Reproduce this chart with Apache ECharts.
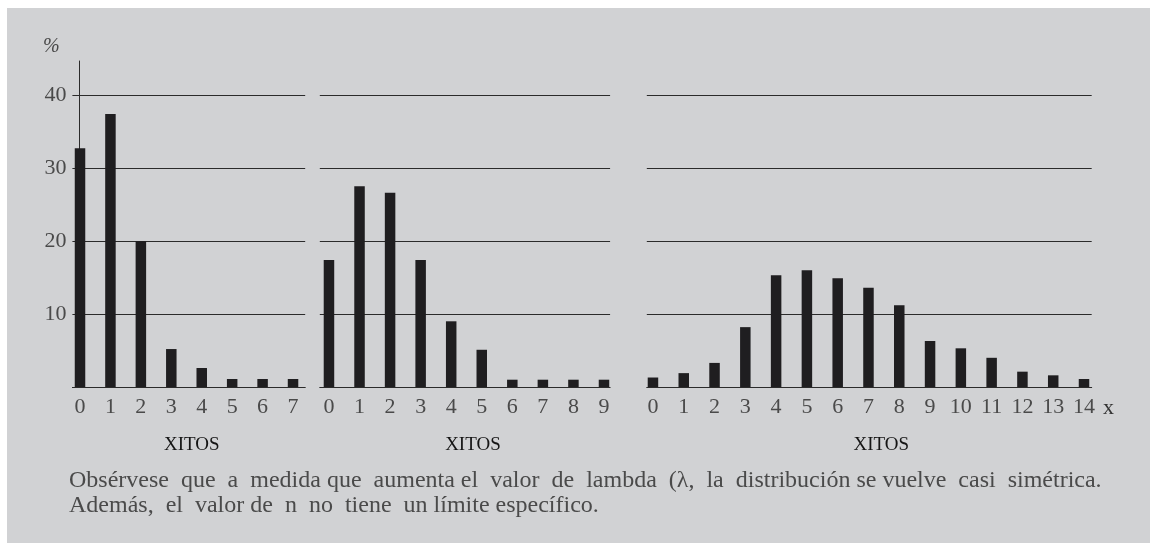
<!DOCTYPE html>
<html>
<head>
<meta charset="utf-8">
<script src="https://cdn.jsdelivr.net/npm/echarts@6/dist/echarts.min.js"></script>
<style>
    html, body { margin: 0; padding: 0; background: #ffffff; }
    #panel { position: absolute; left: 7px; top: 8px; width: 1143px; height: 535px; background: #d1d2d4; }
    #chart { position: absolute; left: 0; top: 0; width: 1150px; height: 543px; }
</style>
</head>
<body>
<div id="panel"></div>
<div id="chart"></div>
<script>
// éxitos (x) y porcentaje de cada panel
var xitos1 = [0, 1, 2, 3, 4, 5, 6, 7];
var pct1 = [32.7, 37.4, 20.0, 5.2, 2.6, 1.1, 1.1, 1.1];
var xitos2 = [0, 1, 2, 3, 4, 5, 6, 7, 8, 9];
var pct2 = [17.4, 27.5, 26.6, 17.4, 9.0, 5.1, 1.0, 1.0, 1.0, 1.0];
var xitos3 = [0, 1, 2, 3, 4, 5, 6, 7, 8, 9, 10, 11, 12, 13, 14];
var pct3 = [1.3, 1.9, 3.3, 8.2, 15.3, 16.0, 14.9, 13.6, 11.2, 6.3, 5.3, 4.0, 2.1, 1.6, 1.1];
var yTicks = [0, 10, 20, 30, 40];
var axisName = "XITOS";
// espacios dobles para imitar el texto justificado del original
var caption1 = "Obsérvese  que  a  medida que  aumenta el  valor  de  lambda  (λ,  la  distribución se vuelve  casi  simétrica.";
var caption2 = "Además,  el  valor de  n  no  tiene  un límite específico.";

var serif = "Liberation Serif";
var ink = "#1f1e20";
var lineCol = "#2b2b2b";
var textCol = "#4a4a4a";

function pairs(xs, ys) {
    var out = [];
    for (var i = 0; i < xs.length; i++) {
        out.push([xs[i], ys[i]]);
    }
    return out;
}

function xAxisFor(idx, xs, min, max, shift) {
    return {
        type: "value",
        gridIndex: idx,
        min: min,
        max: max,
        axisLine: { show: true, onZero: false, lineStyle: { color: lineCol, width: 1 } },
        axisTick: { show: false },
        splitLine: { show: false },
        axisLabel: {
            customValues: xs,
            margin: 9,
            fontFamily: serif,
            fontSize: 22,
            color: textCol
        },
        name: axisName,
        nameLocation: "middle",
        nameGap: 49,
        nameTextStyle: { fontFamily: serif, fontSize: 19, color: "#151515", padding: [0, 0, 0, shift] }
    };
}

function yAxisFor(idx, showLabel) {
    return {
        type: "value",
        gridIndex: idx,
        min: yTicks[0],
        max: yTicks[yTicks.length - 1],
        interval: 10,
        axisLine: { show: false },
        axisTick: { show: false },
        splitLine: { show: true, lineStyle: { color: lineCol, width: 1 } },
        axisLabel: {
            show: showLabel,
            showMinLabel: false,
            margin: 6,
            fontFamily: serif,
            fontSize: 22,
            color: textCol
        }
    };
}

function barSeries(idx, xs, ys) {
    return {
        type: "bar",
        xAxisIndex: idx,
        yAxisIndex: idx,
        barWidth: 10.5,
        itemStyle: { color: ink },
        data: pairs(xs, ys),
        silent: true
    };
}

var chart = echarts.init(document.getElementById("chart"));
var option = {
    animation: false,
    grid: [
        { left: 72.4, top: 95, width: 232.8, height: 292 },
        { left: 319.8, top: 95, width: 290.3, height: 292 },
        { left: 646.8, top: 95, width: 444.9, height: 292 },
        // solo la línea del eje vertical del primer panel
        { left: 79.5, top: 61, width: 1, height: 326 }
    ],
    xAxis: [
        xAxisFor(0, xitos1, -0.25, 7.4, 6),
        xAxisFor(1, xitos2, -0.3, 9.2, 16),
        xAxisFor(2, xitos3, -0.2, 14.25, 24),
        { type: "value", gridIndex: 3, show: false, min: 0, max: 1 }
    ],
    yAxis: [
        yAxisFor(0, true),
        yAxisFor(1, false),
        yAxisFor(2, false),
        {
            type: "value", gridIndex: 3, min: 0, max: 1,
            axisLine: { show: true, onZero: false, lineStyle: { color: lineCol, width: 1 } },
            axisTick: { show: false }, axisLabel: { show: false }, splitLine: { show: false }
        }
    ],
    series: [
        barSeries(0, xitos1, pct1),
        barSeries(1, xitos2, pct2),
        barSeries(2, xitos3, pct3)
    ],
    graphic: [
        { type: "text", left: 43, top: 37, style: { text: "%", font: "italic 20px '" + serif + "'", fill: textCol } },
        { type: "text", x: 1103, y: 408, style: { text: "x", font: "22px '" + serif + "'", fill: "#333", verticalAlign: "middle" } },
        { type: "text", x: 69, y: 481, style: { text: caption1, font: "24px '" + serif + "'", fill: textCol, verticalAlign: "middle" } },
        { type: "text", x: 69, y: 506, style: { text: caption2, font: "24px '" + serif + "'", fill: textCol, verticalAlign: "middle" } }
    ]
};
chart.setOption(option);
</script>
</body>
</html>
